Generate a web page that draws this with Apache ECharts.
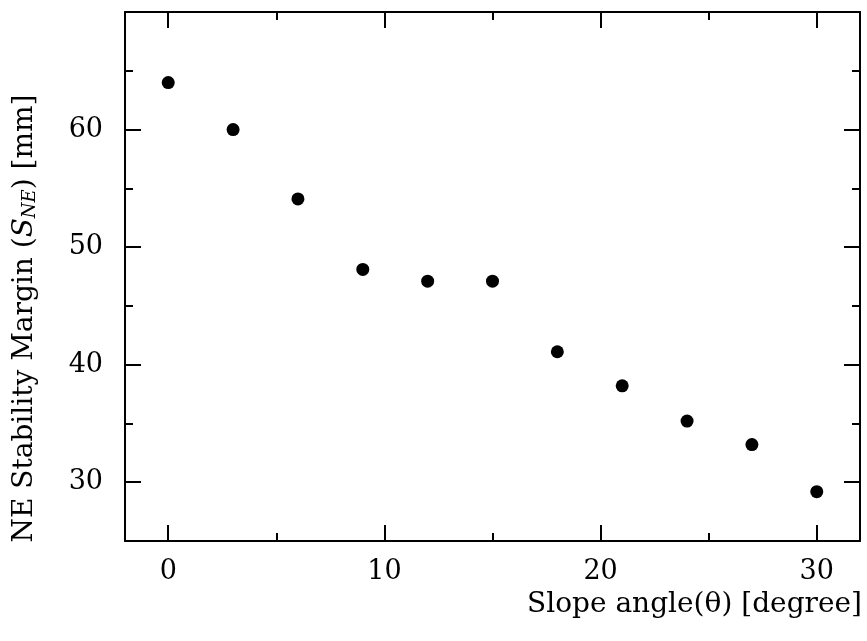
<!DOCTYPE html>
<html>
<head>
<meta charset="utf-8">
<script src="https://cdn.jsdelivr.net/npm/echarts@6/dist/echarts.min.js"></script>
<style>
  html, body { margin: 0; padding: 0; background: #fff; }
  #main { width: 867px; height: 641px; }
</style>
</head>
<body>
<div id="main"></div>
<script>
// slope angle (deg) and NE stability margin (mm)
const slopeAngles = [0, 3, 6, 9, 12, 15, 18, 21, 24, 27, 30];
const stabilityMargin = [64, 60, 54.1, 48.1, 47.1, 47.1, 41.1, 38.2, 35.2, 33.2, 29.2];

const xMajorTicks = [0, 10, 20, 30];
const xMinorTicks = [5, 15, 25];
const yMajorTicks = [30, 40, 50, 60];
const yMinorTicks = [35, 45, 55, 65];

const font = 'DejaVu Serif';
const X_MIN = -2, X_MAX = 32, Y_MIN = 25, Y_MAX = 70;

// 轴的通用配置：主刻度 / 次刻度分开画
function makeAxis(position, min, max, ticks, len, showLine, showLabel) {
  return {
    type: 'value',
    position: position,
    min: min,
    max: max,
    splitLine: { show: false },
    axisLine: { show: showLine, onZero: false, lineStyle: { color: '#000', width: 2 } },
    axisTick: {
      show: true,
      inside: true,
      length: len,
      customValues: ticks,
      lineStyle: { color: '#000', width: 2 }
    },
    axisLabel: {
      show: showLabel,
      customValues: ticks,
      color: '#000',
      fontFamily: font,
      fontSize: 27,
      margin: position === 'bottom' ? 17 : 22
    }
  };
}

const chart = echarts.init(document.getElementById('main'));

const option = {
  backgroundColor: '#fff',
  animation: false,
  grid: { left: 125, right: 7, top: 12, bottom: 100, containLabel: false },
  xAxis: [
    makeAxis('bottom', X_MIN, X_MAX, xMajorTicks, 16, true, true),
    makeAxis('bottom', X_MIN, X_MAX, xMinorTicks, 8, false, false),
    makeAxis('top', X_MIN, X_MAX, xMajorTicks, 16, true, false),
    makeAxis('top', X_MIN, X_MAX, xMinorTicks, 8, false, false)
  ],
  yAxis: [
    Object.assign(makeAxis('left', Y_MIN, Y_MAX, yMajorTicks, 16, true, true), {
      name: 'NE Stability Margin ({s|S}{sub|NE}) [mm]',
      nameLocation: 'middle',
      nameGap: 86,
      nameTextStyle: {
        color: '#000',
        fontFamily: font,
        fontSize: 28,
        padding: [0, 84, 0, 0],
        rich: {
          s: { fontFamily: font, fontSize: 28, fontStyle: 'italic', color: '#000' },
          sub: { fontFamily: font, fontSize: 18, fontStyle: 'italic', color: '#000', verticalAlign: 'bottom', lineHeight: 18 }
        }
      }
    }),
    makeAxis('left', Y_MIN, Y_MAX, yMinorTicks, 8, false, false),
    makeAxis('right', Y_MIN, Y_MAX, yMajorTicks, 16, true, false),
    makeAxis('right', Y_MIN, Y_MAX, yMinorTicks, 8, false, false)
  ],
  graphic: [{
    type: 'text',
    right: 5,
    top: 591,
    style: {
      text: 'Slope angle(θ) [degree]',
      fill: '#000',
      font: '28px "DejaVu Serif"'
    }
  }],
  series: [{
    type: 'scatter',
    xAxisIndex: 0,
    yAxisIndex: 0,
    symbol: 'circle',
    symbolSize: 13,
    itemStyle: { color: '#000', opacity: 1 },
    data: slopeAngles.map((x, i) => [x, stabilityMargin[i]])
  }]
};

chart.setOption(option);
</script>
</body>
</html>
